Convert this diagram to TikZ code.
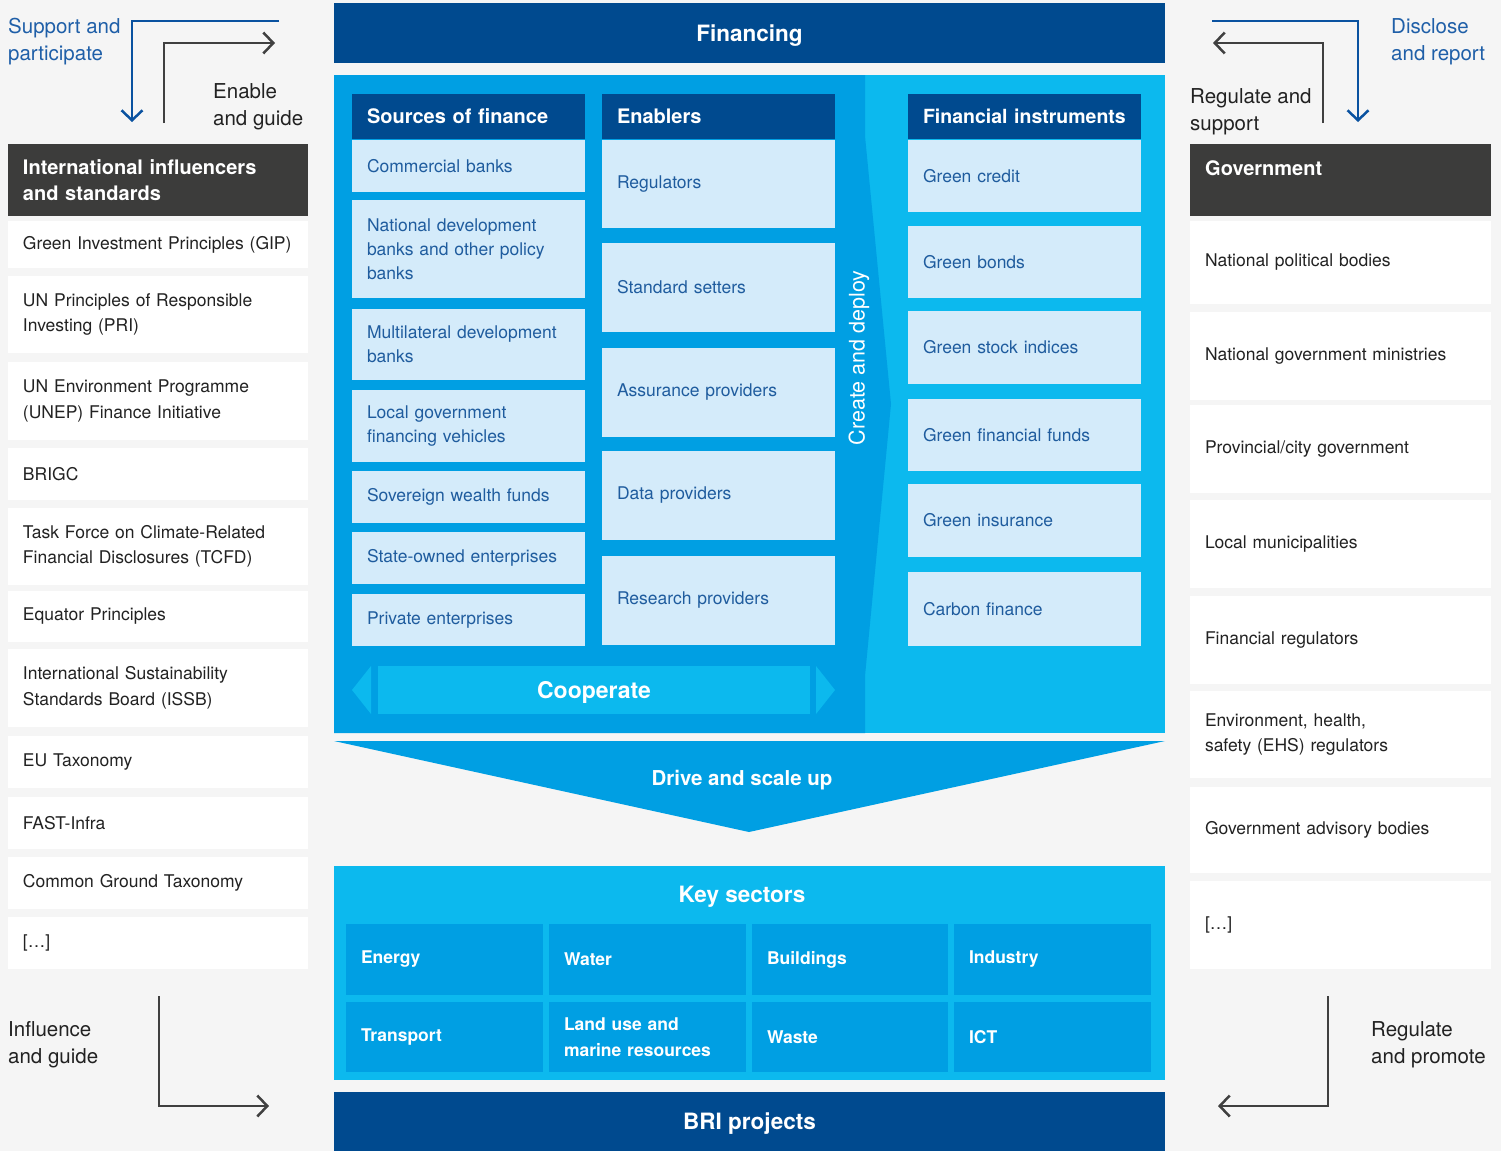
\documentclass[tikz,border=0pt]{standalone}
\usepackage{fontspec}
\setmainfont{TeX Gyre Heros}
\usetikzlibrary{arrows.meta}
\definecolor{bgc}{HTML}{F5F5F5}
\definecolor{dkblue}{HTML}{004A8F}
\definecolor{midb}{HTML}{009FE3}
\definecolor{cyanb}{HTML}{0CB9EE}
\definecolor{lightb}{HTML}{D4EBFA}
\definecolor{txtblue}{HTML}{1F5C9E}
\definecolor{lblblue}{HTML}{1F5FA8}
\definecolor{arrblue}{HTML}{0A52A0}
\definecolor{greyh}{HTML}{3C3C3B}
\definecolor{arrgrey}{HTML}{404040}
\definecolor{txtdark}{HTML}{222222}
\newcommand{\fs}[2]{\fontsize{#1}{#2}\selectfont}
\newcommand{\cellbox}[7]{%
  \pgfmathsetmacro{\cbtw}{#5-30}%
  \node[#1, anchor=north west, minimum width=#5pt, minimum height=#6pt, text width=\cbtw pt] (#2) at (#3,#4) {#7};}
\tikzset{
  base/.style={inner xsep=15pt, inner ysep=0pt, align=left, outer sep=0pt},
  item/.style={base, fill=lightb, text=txtblue, font=\fs{17.5}{24}},
  hdr/.style={base, fill=dkblue, text=white, font=\bfseries\fs{20}{24}},
  wit/.style={base, fill=white, text=txtdark, font=\fs{17.5}{25.5}},
  ghdr/.style={base, fill=greyh, text=white, font=\bfseries\fs{20}{26}},
  sec/.style={base, fill=midb, text=white, font=\bfseries\fs{17.5}{26.5}},
  capc/.style={text height=#1, text depth=0pt},
  bar/.style={capc=16.2pt, fill=dkblue, text=white, font=\bfseries\fs{22.5}{26}, anchor=north west, inner sep=0pt, outer sep=0pt},
  lbl/.style={anchor=west, inner sep=0pt, align=left, font=\fs{20.5}{27}},
  arr/.style={line width=2.5pt, -{Straight Barb[length=10pt,width=21pt]}},
}
\begin{document}
\begin{tikzpicture}[x=1pt,y=-1pt]
\fill[bgc] (0,0) rectangle (1501,1151);
\useasboundingbox (0,0) rectangle (1501,1151);

% ---------- top bar ----------
\node[bar, minimum width=831pt, minimum height=60pt] (fin) at (334,3) {Financing};

% ---------- middle panel ----------
\fill[cyanb] (334,75) rectangle (1165,733);
\fill[midb] (334,75) -- (865,75) -- (865,136) -- (891,404) -- (865,676) -- (865,733) -- (334,733) -- cycle;

% Sources of finance
\cellbox{hdr}{sfh}{352}{94}{233}{45}{Sources of finance}
\cellbox{item}{sf1}{352}{140}{233}{52}{Commercial banks}
\cellbox{item}{sf2}{352}{200}{233}{98}{National development\\banks and other policy\\banks}
\cellbox{item}{sf3}{352}{309}{233}{71}{Multilateral development\\banks}
\cellbox{item}{sf4}{352}{390}{233}{72}{Local government\\financing vehicles}
\cellbox{item}{sf5}{352}{471}{233}{52}{Sovereign wealth funds}
\cellbox{item}{sf6}{352}{532}{233}{52}{State-owned enterprises}
\cellbox{item}{sf7}{352}{594}{233}{52}{Private enterprises}

% Enablers
\cellbox{hdr}{enh}{602}{94}{233}{45}{Enablers}
\cellbox{item}{en1}{602}{140}{233}{88}{Regulators}
\cellbox{item}{en2}{602}{243}{233}{89}{Standard setters}
\cellbox{item}{en3}{602}{348}{233}{89}{Assurance providers}
\cellbox{item}{en4}{602}{451}{233}{89}{Data providers}
\cellbox{item}{en5}{602}{556}{233}{89}{Research providers}

% Financial instruments
\cellbox{hdr}{fih}{908}{94}{233}{45}{\fs{19.5}{24}\mbox{Financial instruments}}
\cellbox{item}{fi1}{908}{140}{233}{72}{Green credit}
\cellbox{item}{fi2}{908}{226}{233}{72}{Green bonds}
\cellbox{item}{fi3}{908}{311}{233}{73}{Green stock indices}
\cellbox{item}{fi4}{908}{399}{233}{72}{Green financial funds}
\cellbox{item}{fi5}{908}{484}{233}{73}{Green insurance}
\cellbox{item}{fi6}{908}{572}{233}{74}{Carbon finance}

\node[rotate=90, text=white, font=\fs{21.5}{26}, inner sep=0pt] (cd) at (859,358) {Create and deploy};

% Cooperate
\fill[cyanb] (352,690) -- (371,666) -- (371,714) -- cycle;
\fill[cyanb] (835,690) -- (816,666) -- (816,714) -- cycle;
\node[capc=16.6pt, fill=cyanb, text=white, font=\bfseries\fs{23}{26}, minimum width=432pt, minimum height=48pt, inner sep=0pt] (coop) at (594,690) {Cooperate};

% Drive and scale up
\fill[midb] (334,741) -- (1165,741) -- (749,832) -- cycle;
\node[capc=14.8pt, text=white, font=\bfseries\fs{20.5}{24}, inner sep=0pt] (drive) at (742,778) {Drive and scale up};

% ---------- key sectors ----------
\node[fill=cyanb, anchor=north west, minimum width=831pt, minimum height=214pt, inner sep=0pt] (ks) at (334,866) {};
\node[capc=16.2pt, text=white, font=\bfseries\fs{22.5}{26}, inner sep=0pt] (kst) at (742,894) {Key sectors};
\cellbox{sec}{k1}{346}{924}{197}{71}{Energy}
\cellbox{sec}{k2}{549}{924}{197}{71}{Water}
\cellbox{sec}{k3}{752}{924}{196}{71}{Buildings}
\cellbox{sec}{k4}{954}{924}{197}{71}{Industry}
\cellbox{sec}{k5}{346}{1002}{197}{70}{Transport}
\cellbox{sec}{k6}{549}{1002}{197}{70}{Land use and\\marine resources}
\cellbox{sec}{k7}{752}{1002}{196}{70}{Waste}
\cellbox{sec}{k8}{954}{1002}{197}{70}{ICT}

% BRI projects
\node[bar, minimum width=831pt, minimum height=59pt] (bri) at (334,1092) {BRI projects};

% ---------- left column ----------
\cellbox{ghdr}{lh}{8}{144}{300}{72}{International influencers\\and standards}
\cellbox{wit}{l1}{8}{221}{300}{47}{Green Investment Principles (GIP)}
\cellbox{wit}{l2}{8}{276}{300}{77}{UN Principles of Responsible\\Investing (PRI)}
\cellbox{wit}{l3}{8}{362}{300}{78}{UN Environment Programme\\(UNEP) Finance Initiative}
\cellbox{wit}{l4}{8}{448}{300}{52}{BRIGC}
\cellbox{wit}{l5}{8}{508}{300}{77}{Task Force on Climate-Related\\Financial Disclosures (TCFD)}
\cellbox{wit}{l6}{8}{591}{300}{51}{Equator Principles}
\cellbox{wit}{l7}{8}{649}{300}{78}{International Sustainability\\Standards Board (ISSB)}
\cellbox{wit}{l8}{8}{736}{300}{52}{EU Taxonomy}
\cellbox{wit}{l9}{8}{797}{300}{52}{FAST-Infra}
\cellbox{wit}{l10}{8}{857}{300}{52}{Common Ground Taxonomy}
\cellbox{wit}{l11}{8}{917}{300}{52}{[\dots]}

% ---------- right column ----------
\cellbox{ghdr}{rh}{1190}{144}{301}{72}{}
\node[anchor=west, text=white, font=\bfseries\fs{20}{26}, inner sep=0pt] (govt) at (1205,168) {Government};
\cellbox{wit}{r1}{1190}{221}{301}{83}{National political bodies}
\cellbox{wit}{r2}{1190}{312}{301}{88}{National government ministries}
\cellbox{wit}{r3}{1190}{405}{301}{88}{Provincial/city government}
\cellbox{wit}{r4}{1190}{500}{301}{88}{Local municipalities}
\cellbox{wit}{r5}{1190}{596}{301}{88}{Financial regulators}
\cellbox{wit}{r6}{1190}{691}{301}{87}{Environment, health,\\safety (EHS) regulators}
\cellbox{wit}{r7}{1190}{787}{301}{86}{Government advisory bodies}
\cellbox{wit}{r8}{1190}{881}{301}{88}{[\dots]}

% ---------- side labels ----------
\node[lbl, text=lblblue] (spl) at (8,42) {Support and\\participate};
\node[lbl, text=txtdark] (egl) at (213,107) {Enable\\and guide};
\node[lbl, text=lblblue] (drl) at (1391,42) {Disclose\\and report};
\node[lbl, text=txtdark] (rsl) at (1190,112) {Regulate and\\support};
\node[lbl, text=txtdark] (igl) at (8,1045) {Influence\\and guide};
\node[lbl, text=txtdark] (rpl) at (1371,1045) {Regulate\\and promote};

% ---------- arrows ----------
\coordinate (a1) at (279,21); \coordinate (a2) at (132,21); \coordinate (a3) at (132,122);
\draw[arr, arrblue] (a1) -- (a2) -- (a3);
\coordinate (b1) at (164,123); \coordinate (b2) at (164,43); \coordinate (b3) at (275,43);
\draw[arr, arrgrey] (b1) -- (b2) -- (b3);
\coordinate (c1) at (1212,21); \coordinate (c2) at (1358,21); \coordinate (c3) at (1358,122);
\draw[arr, arrblue] (c1) -- (c2) -- (c3);
\coordinate (d1) at (1323,123); \coordinate (d2) at (1323,43); \coordinate (d3) at (1213,43);
\draw[arr, arrgrey] (d1) -- (d2) -- (d3);
\coordinate (e1) at (159,996); \coordinate (e2) at (159,1106); \coordinate (e3) at (269,1106);
\draw[arr, arrgrey] (e1) -- (e2) -- (e3);
\coordinate (f1) at (1328,996); \coordinate (f2) at (1328,1106); \coordinate (f3) at (1218,1106);
\draw[arr, arrgrey] (f1) -- (f2) -- (f3);
\end{tikzpicture}
\end{document}
